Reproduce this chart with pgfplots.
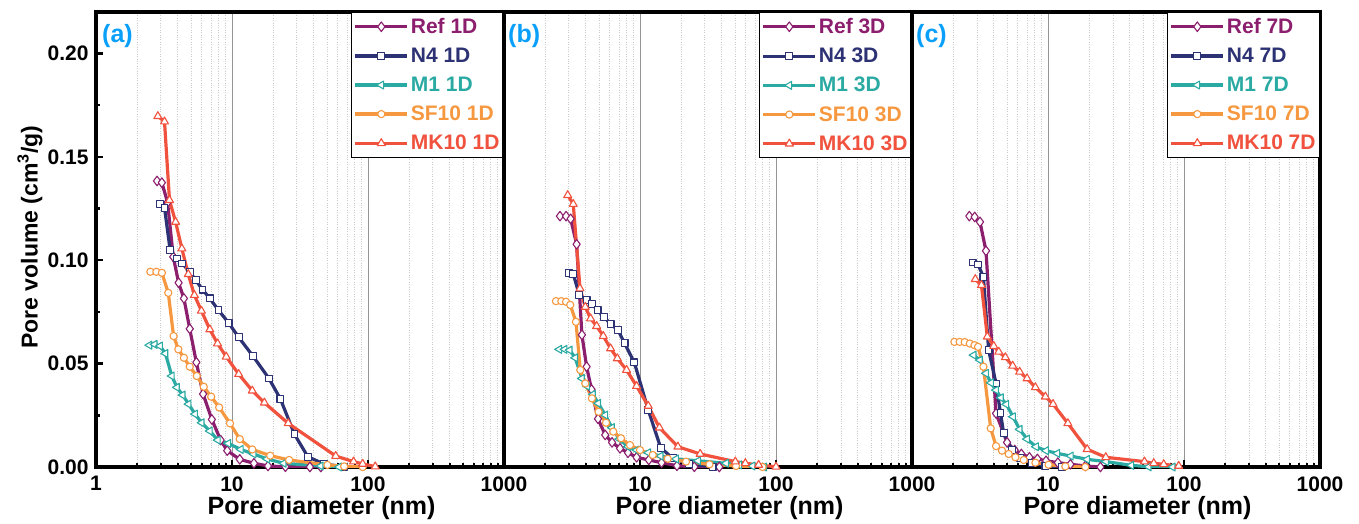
\documentclass[border=0pt]{standalone}
\usepackage{pgfplots}
\pgfplotsset{compat=1.18}
\usepackage{fontspec}
\setmainfont{Liberation Sans}
\definecolor{cref}{RGB}{140,30,110}
\definecolor{cnf}{RGB}{44,50,115}
\definecolor{cmo}{RGB}{42,170,162}
\definecolor{csf}{RGB}{246,152,64}
\definecolor{cmk}{RGB}{240,82,62}
\definecolor{clab}{RGB}{10,160,250}
\pgfplotsset{
 panel/.style={
  scale only axis, width=408pt, height=455pt,
  xmin=1, xmax=1000, ymin=0, ymax=0.22,
  axis line style={line width=3.5pt},
  xtick={1,10,100,1000},
  xtick pos=left, ytick pos=left,
  tick align=inside,
  major tick length=7pt, minor tick length=4pt,
  every tick/.style={black, line width=2.5pt},
  xmajorgrids, xminorgrids,
  major grid style={gray!85, line width=0.8pt, solid},
  minor grid style={gray!40, dotted, line width=0.8pt},
  tick label style={font=\fontsize{21}{22}\selectfont\bfseries},
  xticklabel style={yshift=-6pt},
  label style={font=\fontsize{25}{28}\selectfont\bfseries},
  xlabel={Pore diameter (nm)},
  xlabel style={at={(axis description cs:0.553,0)}, anchor=north, yshift=-26pt},
  legend style={at={(1,1)}, anchor=north east, draw=black, line width=0.8pt, fill=white,
    font=\fontsize{21}{24}\selectfont\bfseries, inner xsep=2pt, inner ysep=4pt,
    row sep=9pt, nodes={inner sep=2pt}},
  legend cell align=left,
  legend image code/.code={\draw[mark repeat=2, mark phase=2] plot coordinates {(0pt,0pt) (26pt,0pt) (52pt,0pt)};},
  every axis plot/.append style={line width=3.2pt, line join=round},
 },
 sref/.style={color=cref, mark=diamond*, mark size=4.8pt, mark options={solid, fill=white, draw=cref, line width=1.1pt}},
 snf/.style={color=cnf, mark=square*, mark size=3.4pt, mark options={solid, fill=white, draw=cnf, line width=1.1pt}},
 smo/.style={color=cmo, mark=triangle*, mark size=4.6pt, mark options={solid, fill=white, draw=cmo, line width=1.1pt, rotate=90}},
 ssf/.style={color=csf, mark=*, mark size=3.6pt, mark options={solid, fill=white, draw=csf, line width=1.1pt}},
 smk/.style={color=cmk, mark=triangle*, mark size=4.6pt, mark options={solid, fill=white, draw=cmk, line width=1.1pt}},
}
\begin{document}
\begin{tikzpicture}
\path[use as bounding box] (0,0) rectangle (1359pt,523pt);
% ---------------- (a)
\begin{semilogxaxis}[panel, at={(96pt,56pt)}, anchor=south west,
  xticklabels={1,10,100,1000},
  ytick={0,0.05,0.10,0.15,0.20}, yticklabels={0.00,0.05,0.10,0.15,0.20},
  minor y tick num=1, yticklabel style={xshift=-4pt},
  ylabel={Pore volume (cm\textsuperscript{3}/g)},
  ylabel style={at={(axis description cs:-0.162,0.505)}, anchor=center, font=\fontsize{23}{26}\selectfont\bfseries},
]
\addplot[sref] coordinates {(2.81,0.1383) (3.05,0.1375) (3.36,0.1279) (3.70,0.1016) (4.05,0.0891) (4.43,0.0815) (4.89,0.0668) (5.47,0.0506) (6.13,0.0353) (7.11,0.0230) (8.25,0.0130) (9.23,0.0079) (11.4,0.0037) (14.5,0.0018) (18.4,0.0005) (24.7,0.0001) (37.4,0) (45,0)};
\addlegendentry{\textcolor{cref}{Ref 1D}}
\addplot[snf] coordinates {(2.94,0.1271) (3.19,0.1254) (3.51,0.1048) (3.94,0.1008) (4.31,0.0984) (4.89,0.0944) (5.41,0.0903) (6.07,0.0858) (6.87,0.0815) (7.96,0.0758) (9.44,0.0697) (11.2,0.0627) (14.2,0.0538) (18.7,0.0428) (22.7,0.0329) (28.8,0.0158) (36.1,0.0050) (47.5,0.0014) (66.8,0.0002)};
\addlegendentry{\textcolor{cnf}{N4 1D}}
\addplot[smo] coordinates {(2.47,0.0589) (2.70,0.0593) (2.96,0.0585) (3.24,0.0549) (3.61,0.0440) (3.94,0.0385) (4.34,0.0348) (4.80,0.0304) (5.35,0.0256) (5.99,0.0214) (6.87,0.0174) (7.87,0.0130) (9.39,0.0114) (11.6,0.0085) (14.4,0.0063) (18.1,0.0039) (24.0,0.0018) (44.9,0.0005) (61.3,0)};
\addlegendentry{\textcolor{cmo}{M1 1D}}
\addplot[ssf] coordinates {(2.51,0.0944) (2.78,0.0944) (3.05,0.0939) (3.40,0.0842) (3.72,0.0633) (4.03,0.0569) (4.43,0.0528) (4.89,0.0485) (5.51,0.0440) (6.20,0.0388) (7.03,0.0340) (8.05,0.0288) (9.66,0.0211) (11.4,0.0135) (14.1,0.0085) (19.1,0.0055) (26.3,0.0034) (50.3,0.0010) (66.8,0.0003) (91.4,0)};
\addlegendentry{\textcolor{csf}{SF10 1D}}
\addplot[smk] coordinates {(2.85,0.1696) (3.19,0.167) (3.47,0.129) (3.85,0.1185) (4.28,0.1056) (4.77,0.0932) (5.29,0.0831) (5.96,0.0755) (6.87,0.0665) (7.83,0.0597) (9.08,0.0533) (11.2,0.0449) (14.1,0.0369) (17.3,0.0311) (25.9,0.0211) (57.9,0.0053) (78.3,0.0026) (91.4,0.0015) (113,0.0002)};
\addlegendentry{\textcolor{cmk}{MK10 1D}}
\node[anchor=base west, xshift=6pt, yshift=-30pt, inner sep=0, text=clab, font=\fontsize{25}{28}\selectfont\bfseries] at (rel axis cs:0,1) {(a)};
\end{semilogxaxis}
% ---------------- (b)
\begin{semilogxaxis}[panel, at={(504pt,56pt)}, anchor=south west,
  xticklabels={,10,100,1000}, ytick=\empty,
]
\addplot[sref] coordinates {(2.58,0.1213) (2.86,0.1213) (3.09,0.1200) (3.42,0.1077) (3.74,0.0639) (4.05,0.0485) (4.40,0.0375) (4.91,0.0233) (5.55,0.0155) (6.23,0.0119) (7.13,0.0090) (8.16,0.0069) (9.44,0.0047) (11.6,0.0034) (14.4,0.0021) (18.7,0.0006) (25.1,0.0001) (38.3,0)};
\addlegendentry{\textcolor{cref}{Ref 3D}}
\addplot[snf] coordinates {(2.99,0.0937) (3.23,0.0934) (3.58,0.0831) (4.05,0.0807) (4.43,0.0787) (4.88,0.0758) (5.43,0.0726) (6.08,0.0691) (6.89,0.0662) (7.70,0.0598) (9.08,0.0506) (11.5,0.0275) (14.2,0.0093) (17.4,0.0042) (23.0,0.0014) (34.2,0.0001)};
\addlegendentry{\textcolor{cnf}{N4 3D}}
\addplot[smo] coordinates {(2.55,0.0569) (2.79,0.0569) (3.04,0.0565) (3.34,0.0528) (3.74,0.0428) (4.08,0.0391) (4.51,0.0351) (4.93,0.0308) (5.56,0.0251) (6.22,0.0190) (7.04,0.0135) (8.16,0.0098) (9.44,0.0082) (11.5,0.0069) (14.2,0.0053) (18.4,0.0039) (26.7,0.0030) (42.9,0.0018) (53.7,0.0010) (67.3,0.0005) (82.0,0)};
\addlegendentry{\textcolor{cmo}{M1 3D}}
\addplot[ssf] coordinates {(2.41,0.0802) (2.64,0.0802) (2.86,0.0799) (3.07,0.0784) (3.38,0.0702) (3.64,0.0469) (3.96,0.0404) (4.43,0.0332) (4.96,0.0267) (5.62,0.0214) (6.36,0.0171) (7.25,0.0139) (8.44,0.0106) (10.0,0.0082) (12.4,0.0058) (16.0,0.0040) (21.8,0.0026) (32.4,0.0013) (50.8,0.0005) (79.7,0)};
\addlegendentry{\textcolor{csf}{SF10 3D}}
\addplot[smk] coordinates {(2.94,0.1314) (3.23,0.1271) (3.62,0.0863) (3.96,0.0774) (4.33,0.0718) (4.80,0.0681) (5.37,0.0633) (6.08,0.0573) (6.81,0.0525) (7.97,0.0469) (9.44,0.0391) (11.5,0.0295) (13.9,0.0190) (19.0,0.0098) (27.7,0.0063) (50.2,0.0026) (59.5,0.0018) (74.5,0.0010) (100,0.0001)};
\addlegendentry{\textcolor{cmk}{MK10 3D}}
\node[anchor=base west, xshift=4pt, yshift=-30pt, inner sep=0, text=clab, font=\fontsize{25}{28}\selectfont\bfseries] at (rel axis cs:0,1) {(b)};
\end{semilogxaxis}
% ---------------- (c)
\begin{semilogxaxis}[panel, at={(912pt,56pt)}, anchor=south west,
  xticklabels={,10,100,1000}, ytick=\empty,
]
\addplot[sref] coordinates {(2.64,0.1213) (2.89,0.1209) (3.16,0.1185) (3.50,0.1045) (4.15,0.0259) (5.00,0.0119) (5.69,0.0082) (6.37,0.0063) (7.30,0.0047) (8.36,0.0039) (9.67,0.0030) (11.8,0.0021) (14.6,0.0013) (18.8,0.0005) (24.3,0)};
\addlegendentry{\textcolor{cref}{Ref 7D}}
\addplot[snf] coordinates {(2.79,0.0989) (3.06,0.0979) (3.35,0.0919) (3.66,0.0565) (4.15,0.0404) (4.47,0.0262) (4.72,0.0163) (5.44,0.0082) (6.27,0.0042) (7.63,0.0018) (9.57,0.0006) (12.7,0)};
\addlegendentry{\textcolor{cnf}{N4 7D}}
\addplot[smo] coordinates {(2.84,0.0541) (3.16,0.0517) (3.50,0.0453) (3.81,0.0407) (4.15,0.0372) (4.51,0.0335) (4.94,0.0303) (5.53,0.0243) (6.19,0.0182) (7.01,0.0135) (8.16,0.0098) (9.67,0.0079) (11.7,0.0066) (14.7,0.0053) (19.4,0.0037) (26.7,0.0026) (41.0,0.0008) (55.0,0.0001) (82.6,0)};
\addlegendentry{\textcolor{cmo}{M1 7D}}
\addplot[ssf] coordinates {(2.05,0.0605) (2.24,0.0605) (2.44,0.0604) (2.66,0.0597) (2.88,0.0589) (3.06,0.0581) (3.35,0.0485) (3.79,0.0187) (4.15,0.0101) (4.59,0.0079) (5.14,0.0063) (5.76,0.0047) (6.63,0.0034) (8.08,0.0021) (10.1,0.0011) (13.4,0.0003) (18.8,0)};
\addlegendentry{\textcolor{csf}{SF10 7D}}
\addplot[smk] coordinates {(2.92,0.0908) (3.24,0.0879) (3.58,0.0630) (3.99,0.0585) (4.34,0.0557) (4.86,0.0530) (5.50,0.0489) (6.19,0.0460) (7.01,0.0428) (8.08,0.0385) (9.57,0.0340) (10.9,0.0304) (14.0,0.0211) (19.4,0.0086) (26.6,0.0047) (51.2,0.0026) (59.9,0.0018) (70.9,0.0013) (91.4,0.0005)};
\addlegendentry{\textcolor{cmk}{MK10 7D}}
\node[anchor=base west, xshift=4pt, yshift=-30pt, inner sep=0, text=clab, font=\fontsize{25}{28}\selectfont\bfseries] at (rel axis cs:0,1) {(c)};
\end{semilogxaxis}
\end{tikzpicture}
\end{document}
